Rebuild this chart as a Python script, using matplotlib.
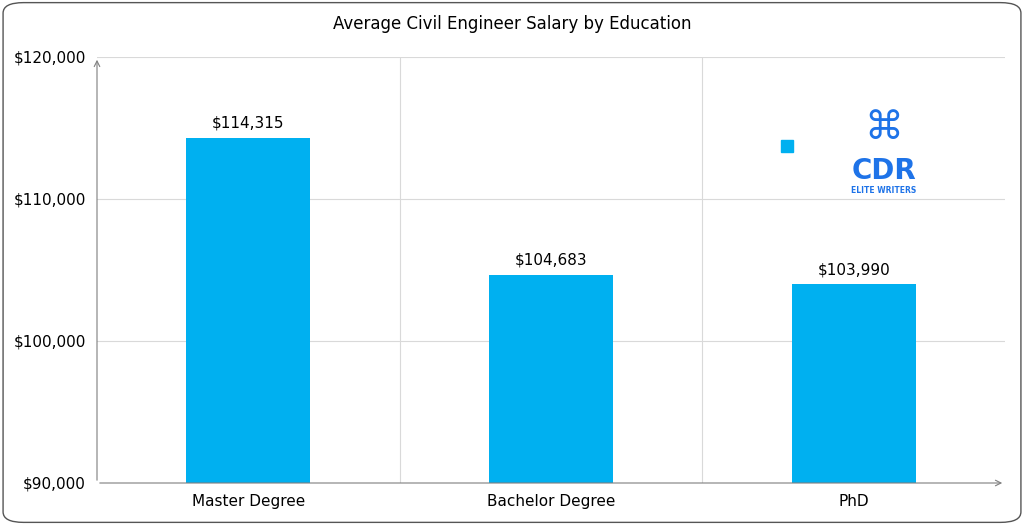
import matplotlib.pyplot as plt
from matplotlib.patches import FancyBboxPatch

categories = ["Master Degree", "Bachelor Degree", "PhD"]
salaries = [114315, 104683, 103990]
yticks = [90000, 100000, 110000, 120000]

fig = plt.figure(figsize=(10.24, 5.25), dpi=100)
fig.patches.append(FancyBboxPatch((0.003, 0.005), 0.994, 0.99, boxstyle="round,pad=0,rounding_size=0.02",
                                  transform=fig.transFigure, fill=False, ec="#555555", lw=1))
ax = fig.add_axes([97/1024, 42/525, 908/1024, 426/525])

x = range(len(categories))
ax.bar(x, salaries, width=0.41, color="#00B0F0", zorder=3)
for i, v in zip(x, salaries):
    ax.text(i, v + 500, f"${v:,}", ha="center", va="bottom", fontsize=11)

ax.set_xlim(-0.5, 2.5)
ax.set_ylim(90000, 120000)
ax.set_yticks(yticks)
ax.set_yticklabels([f"${t:,}" for t in yticks], fontsize=11)
ax.set_xticks(list(x))
ax.set_xticklabels(categories, fontsize=11)
ax.tick_params(length=0, pad=8)
for t in yticks[1:]:
    ax.axhline(t, color="#d9d9d9", lw=0.8, zorder=0)
for b in [0.5, 1.5]:
    ax.axvline(b, color="#d9d9d9", lw=0.8, zorder=0)
for s in ax.spines.values():
    s.set_visible(False)
ax.annotate("", xy=(2.5, 90000), xytext=(-0.5, 90000),
            arrowprops=dict(arrowstyle="->", color="#7f7f7f", lw=0.8), annotation_clip=False)
ax.annotate("", xy=(-0.5, 120000), xytext=(-0.5, 90000),
            arrowprops=dict(arrowstyle="->", color="#7f7f7f", lw=0.8), annotation_clip=False)

fig.text(0.5, 0.955, "Average Civil Engineer Salary by Education", ha="center", va="center", fontsize=12)

# legend square and watermark
ax.plot([1.78], [113750], marker="s", color="#00B0F0", ms=8, zorder=4)
ax.text(2.1, 112000, "CDR", ha="center", va="center", fontsize=20, color="#1E73E8", fontweight="bold")
ax.text(2.1, 110600, "ELITE WRITERS", ha="center", va="center", fontsize=5.5, color="#1E73E8", fontweight="bold")
ax.text(2.1, 115000, "⌘", ha="center", va="center", fontsize=28, color="#1E73E8")

fig.savefig("out.png", dpi=100)
